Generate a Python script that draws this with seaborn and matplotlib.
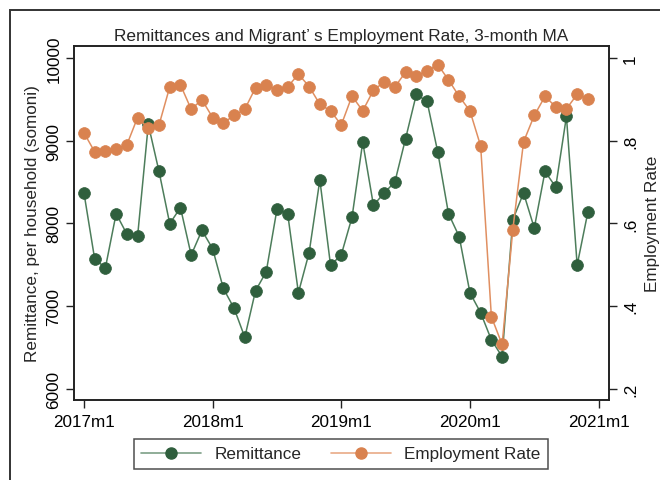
import matplotlib
matplotlib.use("Agg")
import matplotlib.pyplot as plt
import seaborn as sns
import pandas as pd
from matplotlib.lines import Line2D
from matplotlib.patches import Rectangle

# Monthly series, 2017m1 .. 2020m12 (3-month moving averages)
month_index = list(range(48))
remittance = [8367, 7567, 7463, 8117, 7870, 7842, 9196, 8627, 7996, 8190, 7616, 7915,
              7693, 7212, 6973, 6622, 7184, 7414, 8170, 8117, 7160, 7645, 8525, 7491,
              7620, 8073, 8982, 8218, 8367, 8501, 9026, 9560, 9475, 8861, 8117, 7839,
              7160, 6918, 6590, 6388, 8045, 8367, 7943, 8627, 8440, 9293, 7495, 8137]
employment = [0.819, 0.773, 0.775, 0.779, 0.790, 0.856, 0.830, 0.838, 0.930, 0.935, 0.876, 0.899,
              0.856, 0.843, 0.861, 0.876, 0.928, 0.935, 0.922, 0.930, 0.961, 0.931, 0.888, 0.872,
              0.838, 0.908, 0.872, 0.922, 0.942, 0.930, 0.966, 0.957, 0.968, 0.984, 0.947, 0.907,
              0.872, 0.787, 0.374, 0.307, 0.585, 0.797, 0.861, 0.907, 0.882, 0.877, 0.912, 0.901]

x_ticks = [0, 12, 24, 36, 48]
x_tick_labels = ["2017m1", "2018m1", "2019m1", "2020m1", "2021m1"]
left_ticks = [6000, 7000, 8000, 9000, 10000]
right_ticks = [0.2, 0.4, 0.6, 0.8, 1.0]
right_tick_labels = [".2", ".4", ".6", ".8", "1"]

df = pd.DataFrame({"month": month_index, "remittance": remittance, "employment": employment})

sns.set_style("white")
plt.rcParams["font.family"] = ["Liberation Sans", "DejaVu Sans"]

GREEN_M = "#2f5f3d"
GREEN_L = "#4d7d5b"
ORANGE_M = "#d9824f"
ORANGE_L = "#e08f61"
DARK = "#222222"

fig = plt.figure(figsize=(6.6, 4.81), dpi=100)
ax = fig.add_axes([74 / 660, 1 - 401 / 481, (609 - 74) / 660, (401 - 47) / 481])
ax2 = ax.twinx()

sns.lineplot(data=df, x="month", y="remittance", ax=ax, color=GREEN_L, lw=1.1,
             marker="o", markersize=8.5, markerfacecolor=GREEN_M, markeredgecolor=GREEN_M,
             markeredgewidth=0.5, zorder=3)
sns.lineplot(data=df, x="month", y="employment", ax=ax2, color=ORANGE_L, lw=1.1,
             marker="o", markersize=8.5, markerfacecolor=ORANGE_M, markeredgecolor=ORANGE_M,
             markeredgewidth=0.5, zorder=3)

ax.set_xlim(-0.93, 48.97)
ax.set_ylim(5863, 10145)
ax2.set_ylim(0.1726, 1.029)

ax.set_xticks(x_ticks)
ax.set_xticklabels(x_tick_labels)
ax.set_yticks(left_ticks)
ax.set_yticklabels([str(v) for v in left_ticks], rotation=90, va="center")
ax2.set_yticks(right_ticks)
ax2.set_yticklabels(right_tick_labels, rotation=90, va="center")

fs = 12.3
ax.tick_params(axis="both", which="major", direction="out", length=6, width=1.0,
               color=DARK, labelsize=fs, labelcolor="black", pad=3)
ax.tick_params(axis="x", pad=4, left=True, bottom=True)
ax.tick_params(axis="y", left=True)
ax2.tick_params(axis="y", direction="out", length=6, width=1.0, color=DARK,
                labelsize=fs, labelcolor="black", right=True, pad=4)

ax.set_xlabel("")
ax.set_ylabel("Remittance, per household (somoni)", fontsize=fs, labelpad=5)
ax2.set_ylabel("Employment Rate", fontsize=fs, labelpad=5)

for a in (ax, ax2):
    for s in a.spines.values():
        s.set_visible(True)
        s.set_color(DARK)
        s.set_linewidth(1.2)
    a.grid(False)

fig.text(341 / 660, 1 - 36 / 481, "Remittances and Migrant\u2019 s Employment Rate, 3-month MA",
         ha="center", va="center", fontsize=12.4)

# outer graph frame
frame = Rectangle((10 / 660, -0.1), 1.2, 1 - 11 / 481 + 0.1, transform=fig.transFigure,
                  fill=False, edgecolor="#333333", linewidth=1.4, zorder=0)
fig.patches.append(frame)

handles = [
    Line2D([0], [0], color="#7d9f86", lw=1.2, marker="o", markersize=8,
           markerfacecolor=GREEN_M, markeredgecolor=GREEN_M),
    Line2D([0], [0], color="#e9aa86", lw=1.2, marker="o", markersize=8,
           markerfacecolor=ORANGE_M, markeredgecolor=ORANGE_M),
]
leg = fig.legend(handles, ["Remittance", "Employment Rate"], loc="center",
                 bbox_to_anchor=(341 / 660, 1 - 455 / 481), ncol=2, frameon=True,
                 fancybox=False, edgecolor=DARK, fontsize=fs, handlelength=3.5,
                 columnspacing=1.7, handletextpad=0.8, borderpad=0.45, borderaxespad=0)
leg.get_frame().set_linewidth(1.1)

fig.savefig("out.png", dpi=100)
